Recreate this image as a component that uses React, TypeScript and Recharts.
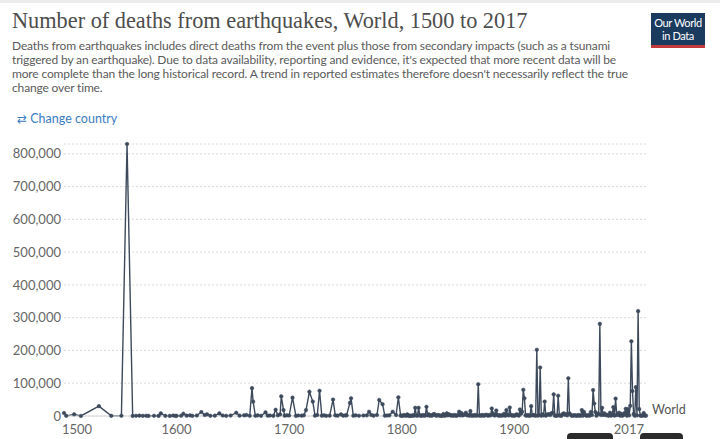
import React from "react";
import { CartesianGrid, Line, LineChart, XAxis, YAxis } from "recharts";

// sparse early record: explicit years
const years1500s = [1500, 1502, 1509, 1515, 1531, 1542, 1551, 1556, 1561, 1564, 1567, 1570, 1573, 1575, 1580, 1584, 1586, 1590, 1594, 1597, 1599];
const deaths1500s = [9000, 500, 5000, 200, 30000, 500, 800, 830000, 300, 700, 1000, 500, 800, 300, 600, 300, 8000, 500, 300, 1500, 400];

const years1600s = [1600, 1604, 1606, 1609, 1612, 1614, 1618, 1622, 1625, 1627, 1630, 1634, 1638, 1641, 1644, 1648, 1653, 1656, 1660, 1662, 1665, 1667, 1668, 1670, 1672, 1675, 1679, 1681, 1683, 1686, 1688, 1690, 1692, 1693, 1695, 1696, 1698];
const deaths1600s = [500, 800, 7000, 1000, 2000, 500, 1500, 12000, 3000, 5000, 800, 1000, 8000, 1500, 500, 1500, 10000, 1000, 2000, 3000, 600, 85000, 44000, 800, 2000, 500, 11000, 1000, 1500, 500, 19000, 2000, 5000, 60000, 18000, 1000, 2000];

const years1700s = [1700, 1703, 1706, 1708, 1711, 1713, 1715, 1718, 1721, 1723, 1725, 1727, 1729, 1731, 1733, 1736, 1739, 1741, 1743, 1746, 1748, 1750, 1751, 1754, 1755, 1757, 1759, 1762, 1766, 1769, 1771, 1773, 1775, 1778, 1780, 1783, 1785, 1787, 1789, 1792, 1795, 1797, 1799];
const deaths1700s = [1500, 56000, 500, 1500, 1000, 2000, 18000, 74000, 44000, 1000, 3000, 77000, 1000, 2000, 500, 1000, 50000, 2000, 1000, 5000, 1000, 2000, 2000, 40000, 54000, 1000, 2000, 800, 1500, 2000, 13000, 3000, 1000, 3000, 49000, 36000, 1000, 1500, 2000, 13000, 3000, 57000, 1000];

// annual record from 1800 on (first value = 1800, 1900, 2000)
const deaths1800s = [
  1000, 500, 3000, 1500, 1000, 5000, 500, 1000, 500, 1000,
  2000, 1000, 25000, 1500, 1000, 25000, 2000, 1000, 1000, 3000,
  1000, 2000, 28000, 2000, 5000, 1000, 2000, 1000, 5000, 6000,
  2000, 1000, 3000, 2000, 1000, 1000, 500, 6000, 1000, 1500,
  8000, 2000, 5000, 3000, 1000, 2000, 1000, 3000, 1000, 1000,
  3000, 13000, 2000, 9000, 2000, 3000, 5000, 10000, 2000, 3000,
  1000, 15000, 1000, 2000, 1000, 3000, 1000, 2000, 97000, 1000,
  2000, 1000, 3000, 1000, 2000, 4000, 2000, 1000, 3000, 2000,
  23000, 8000, 2000, 2000, 17000, 3000, 1000, 2000, 1000, 2000,
  1500, 7000, 1000, 18000, 3000, 2000, 26000, 3000, 1000, 2000,
];
const deaths1900s = [
  1000, 2000, 5000, 3000, 1000, 20000, 7000, 13000, 80000, 54000,
  2000, 1000, 3000, 1000, 1000, 30000, 2000, 3000, 2000, 1000,
  202000, 1000, 3000, 148000, 1000, 5000, 2000, 44000, 1000, 4000,
  5000, 5000, 3000, 8000, 10000, 66000, 1000, 1000, 1000, 62000,
  2000, 1000, 1000, 6000, 8000, 4000, 5000, 2000, 115000, 8000,
  4000, 1000, 1000, 2000, 2000, 1000, 1000, 3000, 1000, 1000,
  18000, 1000, 12000, 3000, 1000, 1000, 3000, 1000, 12000, 3000,
  79000, 38000, 12000, 1000, 7000, 6000, 281000, 3000, 25000, 3000,
  8000, 3000, 3000, 2000, 1000, 10000, 1000, 5000, 27000, 1000,
  53000, 3000, 4000, 10000, 1000, 7000, 1000, 3000, 9000, 22000,
];
const deaths2000s = [1000, 21000, 2000, 31000, 228000, 76000, 6000, 1000, 88000, 2000, 320000, 21000, 1000, 1000, 1000, 9000, 1000, 1000];

const yTicks = [0, 100000, 200000, 300000, 400000, 500000, 600000, 700000, 800000];
const xTicks = [1500, 1600, 1700, 1800, 1900, 2017];

const data = [
  ...years1500s.map((year, i) => ({ year, deaths: deaths1500s[i] })),
  ...years1600s.map((year, i) => ({ year, deaths: deaths1600s[i] })),
  ...years1700s.map((year, i) => ({ year, deaths: deaths1700s[i] })),
  ...deaths1800s.map((deaths, i) => ({ year: 1800 + i, deaths })),
  ...deaths1900s.map((deaths, i) => ({ year: 1900 + i, deaths })),
  ...deaths2000s.map((deaths, i) => ({ year: 2000 + i, deaths })),
];

const LINE = "#3d4a5c";
const AXIS_TEXT = "#666";
const SANS = "Lato, 'Noto Sans', sans-serif";

function XTick(props: any) {
  const { x, y, payload, index } = props;
  const anchor = index === 0 ? "start" : index === xTicks.length - 1 ? "end" : "middle";
  const dx = index === 0 ? -2 : index === xTicks.length - 1 ? -2 : 0;
  return (
    <text x={x + dx} y={y} dy="0.71em" textAnchor={anchor} fill={AXIS_TEXT} fontSize={13} fontFamily={SANS}>
      {payload.value}
    </text>
  );
}

function EndLabel(props: any) {
  const { x, y, index } = props;
  if (index !== data.length - 1) return null;
  return (
    <text x={x + 6} y={y - 6} dy="0.35em" fill="#555" fontSize={12.5} fontFamily={SANS}>
      World
    </text>
  );
}

export default function App() {
  return (
    <div style={{ position: "absolute", left: 0, top: 0, width: 720, height: 439, background: "#fff", overflow: "hidden", fontFamily: SANS }}>
      <div style={{ position: "absolute", left: 0, top: 0, width: 720, height: 3, background: "#ececec" }} />
      <div style={{ position: "absolute", left: 12, top: 8, fontFamily: "'Liberation Serif', 'DejaVu Serif', serif", fontSize: 22.3, lineHeight: "26px", color: "#4d4d4d", whiteSpace: "nowrap" }}>
        Number of deaths from earthquakes, World, 1500 to 2017
      </div>
      <div style={{ position: "absolute", left: 12, top: 39, fontSize: 12, letterSpacing: "-0.15px", lineHeight: "14px", color: "#5b5b5b", whiteSpace: "nowrap" }}>
        <div>Deaths from earthquakes includes direct deaths from the event plus those from secondary impacts (such as a tsunami</div>
        <div>triggered by an earthquake). Due to data availability, reporting and evidence, it's expected that more recent data will be</div>
        <div>more complete than the long historical record. A trend in reported estimates therefore doesn't necessarily reflect the true</div>
        <div>change over time.</div>
      </div>
      <div style={{ position: "absolute", left: 17, top: 111, fontSize: 12.5, color: "#3b7cc0", whiteSpace: "nowrap" }}>
        <span style={{ fontFamily: "'DejaVu Sans', sans-serif", fontSize: 12 }}>⇄</span> Change country
      </div>
      <div style={{ position: "absolute", left: 651, top: 13, width: 54, height: 29, background: "#1a3a5e", borderBottom: "3px solid #c4393c", color: "#fff", fontSize: 11, letterSpacing: "-0.4px", lineHeight: "13px", textAlign: "center", paddingTop: 3, boxSizing: "content-box", whiteSpace: "nowrap" }}>
        <div>Our World</div>
        <div>in Data</div>
      </div>

      <div style={{ position: "absolute", left: 0, top: 130 }}>
        <LineChart width={720} height={309} data={data} margin={{ top: 14, right: 74, bottom: 0, left: 0 }}>
          <CartesianGrid vertical={false} stroke="#dcdcdc" strokeDasharray="2 2" />
          <XAxis
            dataKey="year"
            type="number"
            domain={[1500, 2017]}
            ticks={xTicks}
            height={23}
            tickLine={false}
            axisLine={{ stroke: "#d6d6d6" }}
            tickSize={0}
            tickMargin={9}
            tick={<XTick />}
            interval={0}
          />
          <YAxis
            type="number"
            domain={[0, 830000]}
            ticks={yTicks}
            width={64}
            axisLine={false}
            tickLine={false}
            tickSize={0}
            tickMargin={3}
            interval={0}
            tickFormatter={(v: number) => v.toLocaleString("en-US")}
            tick={{ fill: AXIS_TEXT, fontSize: 13, fontFamily: SANS }}
          />
          <Line
            type="linear"
            dataKey="deaths"
            stroke={LINE}
            strokeWidth={1.4}
            dot={{ r: 1.8, fill: LINE, stroke: LINE, strokeWidth: 0.5 }}
            isAnimationActive={false}
            label={<EndLabel />}
          />
        </LineChart>
      </div>

      <div style={{ position: "absolute", left: 567, top: 433, width: 46, height: 8, background: "#2b2b2b", borderRadius: "4px 4px 0 0" }} />
      <div style={{ position: "absolute", left: 640, top: 433, width: 43, height: 8, background: "#2b2b2b", borderRadius: "4px 4px 0 0" }} />
    </div>
  );
}
